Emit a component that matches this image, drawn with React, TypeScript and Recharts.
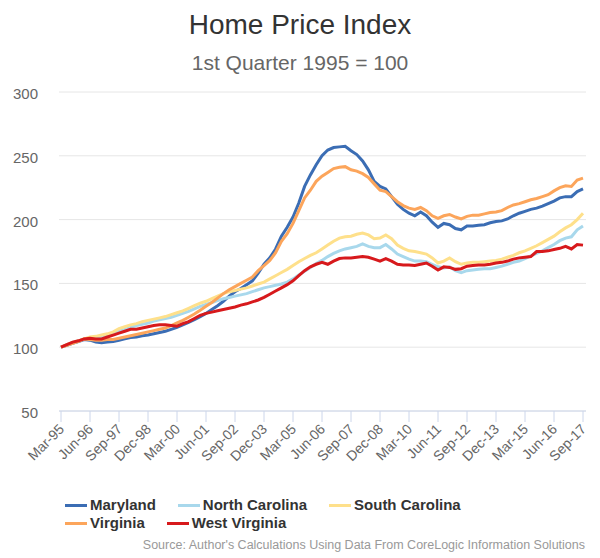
import { LineChart, Line, XAxis, YAxis, CartesianGrid } from 'recharts';

const FONT = '"Liberation Sans", Arial, sans-serif';

const MONTHS = ['Mar', 'Jun', 'Sep', 'Dec'];
const YEARS = [
  1995, 1996, 1997, 1998, 1999, 2000, 2001, 2002, 2003, 2004, 2005, 2006,
  2007, 2008, 2009, 2010, 2011, 2012, 2013, 2014, 2015, 2016, 2017,
];
// Mar-95 .. Sep-17
const QUARTERS = YEARS.flatMap(y => MONTHS.map(m => `${m}-${String(y).slice(2)}`)).slice(0, 91);

const Y_TICKS = [50, 100, 150, 200, 250, 300];

const MARYLAND = [
  100, 101.5, 103, 104.5, 106, 105.5, 104, 103.5, 104, 104.5,
  105.5, 106.5, 107.5, 108, 109, 109.5, 110.5, 111.5, 112.5, 114,
  115.5, 117.5, 119.5, 121.5, 124, 126.5, 129.5, 132.5, 136, 140,
  143.5, 146, 149, 152, 158, 165, 170, 177, 187, 194,
  202, 213, 226, 235, 243, 250, 254.5, 256.5, 257, 257.5,
  254, 251, 246, 239, 230, 226, 224, 218, 212, 208,
  205, 203, 206, 203, 198, 194, 197, 196, 193, 192,
  195, 195, 195.5, 196, 197.5, 198.5, 199, 200.5, 203, 205,
  206.5, 208, 209, 210.5, 212.5, 214.5, 217, 218, 218, 222,
  224,
];

const NORTH_CAROLINA = [
  100, 102, 103.5, 105, 106.5, 107.5, 108, 108.5, 109.5, 111,
  112.5, 114, 115.5, 117, 118, 119, 120.5, 121.5, 122.5, 123.5,
  125, 126.5, 128, 130, 132, 133.5, 135, 136.5, 138, 139,
  140, 141, 142, 143.5, 145, 146.5, 147.5, 148.5, 149.5, 151,
  153.5, 156.5, 159.5, 162.5, 165.5, 168, 171, 173.5, 175.5, 177,
  178, 179, 181, 179, 178, 178, 180.5, 177, 173, 171,
  169, 167.5, 167.5, 167, 165, 163, 162, 163, 160, 158.5,
  160, 160.5, 161, 161.5, 161.5, 162.5, 163.5, 165, 166.5, 167.5,
  169.5, 171.5, 173.5, 175.5, 178, 180.5, 183.5, 185.5, 186.5, 192,
  195,
];

const SOUTH_CAROLINA = [
  100, 102, 103.5, 105, 106.5, 108, 108.5, 109.5, 110.5, 112,
  114.5, 116, 117.5, 118.5, 120, 121, 122, 123, 124, 125.5,
  127, 128.5, 130.5, 132.5, 134.5, 136, 138, 140, 142, 143.5,
  144.5, 145.5, 146.5, 148, 149.5, 151, 153.5, 156, 158.5, 161,
  164, 167, 169.5, 172, 174, 177, 180, 183, 185.5, 186.5,
  187, 188.5, 189.5, 188, 185, 185.5, 188, 185, 180, 177.5,
  175.5, 175, 174, 173, 170, 166, 167.5, 170, 167, 165,
  166, 166.5, 166.5, 167, 167.5, 168, 169, 170.5, 172, 174,
  175.5, 177.5, 179.5, 182, 184.5, 187, 190.5, 193.5, 196, 200,
  205,
];

const VIRGINIA = [
  100, 101.5, 103, 104.5, 106.5, 106, 105.5, 105.5, 106, 106,
  107, 108, 109, 110, 111, 112, 113, 114, 115, 117,
  119, 121, 123.5, 126, 129, 132, 135, 138.5, 142, 145,
  147.5, 150, 152.5, 155, 160, 164, 168, 174, 183, 189,
  197, 207, 217, 223, 230, 234, 237, 240, 241, 241.5,
  239, 238, 236, 233, 228, 223, 222, 218, 214, 211,
  209, 208, 209.5, 207, 203, 201, 203, 204, 202, 200.5,
  202.5, 203.5, 203.5, 204.5, 205.5, 206, 207, 209.5, 211.5, 212.5,
  214, 215.5, 216.5, 218, 219.5, 222.5, 225, 226.5, 226, 231,
  232.5,
];

const WEST_VIRGINIA = [
  100, 102, 104, 105, 106.5, 107, 106.5, 106.5, 108, 109.5,
  111, 112.5, 114, 114, 115, 116, 117, 117.5, 117.5, 117,
  116.5, 118.5, 120, 122.5, 125, 126.5, 127.5, 128.5, 129.5, 130.5,
  131.5, 133, 134, 135.5, 137, 139, 141.5, 144, 146.5, 149,
  152, 156, 160, 163, 165, 166.5, 165, 167.5, 169.5, 170,
  170, 170.5, 171, 170.5, 169, 167.5, 169.5, 167.5, 165, 164.5,
  164.5, 164, 165, 166, 163.5, 160.5, 163, 162.5, 161, 161.5,
  163.5, 164, 164.5, 164.5, 165, 166, 166.5, 167.5, 169, 170,
  170.5, 171, 175, 175, 175.5, 176.5, 177.5, 179, 177, 180.5,
  180,
];

const SERIES = [
  { key: 'md', name: 'Maryland', color: '#3b6db4', values: MARYLAND },
  { key: 'nc', name: 'North Carolina', color: '#a8d8ec', values: NORTH_CAROLINA },
  { key: 'sc', name: 'South Carolina', color: '#fee08b', values: SOUTH_CAROLINA },
  { key: 'va', name: 'Virginia', color: '#fca55b', values: VIRGINIA },
  { key: 'wv', name: 'West Virginia', color: '#d7191c', values: WEST_VIRGINIA },
];

const chartData = QUARTERS.map((quarter, i) => {
  const row: Record<string, string | number> = { quarter };
  for (const s of SERIES) row[s.key] = s.values[i];
  return row;
});

function XTick({ x, y, payload }: any) {
  return (
    <text
      transform={`translate(${x + 4},${y + 6}) rotate(-45)`}
      textAnchor="end"
      fill="#666"
      fontSize={14}
      fontFamily={FONT}
    >
      {payload.value}
    </text>
  );
}

function YTick({ x, y, payload }: any) {
  return (
    <text x={x} y={y} dy={7} textAnchor="end" fill="#666" fontSize={15} fontFamily={FONT}>
      {payload.value}
    </text>
  );
}

export default function App() {
  return (
    <div
      style={{
        position: 'absolute',
        left: 0,
        top: 0,
        width: 600,
        height: 558,
        background: '#fff',
        fontFamily: FONT,
        overflow: 'hidden',
      }}
    >
      <div
        style={{
          position: 'absolute', top: 11, left: 0, width: 600, textAlign: 'center',
          fontSize: 28, lineHeight: '28px', color: '#333',
        }}
      >
        Home Price Index
      </div>
      <div
        style={{
          position: 'absolute', top: 52, left: 0, width: 600, textAlign: 'center',
          fontSize: 21, lineHeight: '21px', color: '#666',
        }}
      >
        1st Quarter 1995 = 100
      </div>

      <LineChart
        width={600}
        height={558}
        data={chartData}
        margin={{ top: 92, right: 14, bottom: 87, left: 0 }}
      >
        <CartesianGrid stroke="#e6e6e6" vertical={false} />
        <XAxis
          dataKey="quarter"
          interval={4}
          height={60}
          padding={{ left: 2, right: 3 }}
          stroke="#ccd6eb"
          tickSize={11}
          tick={<XTick />}
        />
        <YAxis
          domain={[50, 300]}
          ticks={Y_TICKS}
          width={59}
          axisLine={false}
          tickLine={false}
          tickSize={0}
          tickMargin={21}
          tick={<YTick />}
        />
        {SERIES.map(s => (
          <Line
            key={s.key}
            type="linear"
            dataKey={s.key}
            name={s.name}
            stroke={s.color}
            strokeWidth={3}
            dot={false}
            isAnimationActive={false}
          />
        ))}
      </LineChart>

      <div
        style={{
          position: 'absolute', top: 496, left: 65, width: 430,
          display: 'flex', flexWrap: 'wrap',
          fontSize: 15, lineHeight: '18px', fontWeight: 'bold', color: '#333',
        }}
      >
        {SERIES.map(s => (
          <div key={s.key} style={{ display: 'flex', alignItems: 'center', marginRight: 22 }}>
            <span style={{ display: 'inline-block', width: 22, height: 3, background: s.color, marginRight: 3 }} />
            <span>{s.name}</span>
          </div>
        ))}
      </div>

      <div
        style={{
          position: 'absolute', top: 539, right: 15,
          fontSize: 12.5, lineHeight: '13px', color: '#999',
        }}
      >
        Source: Author's Calculations Using Data From CoreLogic Information Solutions
      </div>
    </div>
  );
}
